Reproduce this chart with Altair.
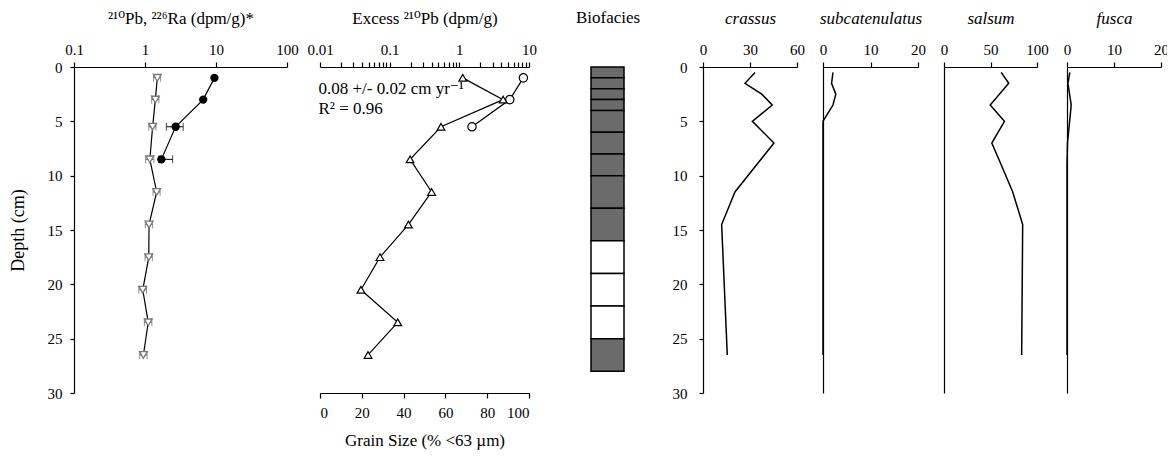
import altair as alt
import pandas as pd

# ---------------- data ----------------
# Panel 1: total 210Pb (filled circles) and 226Ra (open down-triangles)
pb_depth = [1, 3, 5.5, 8.5]
pb_value = [9.5, 6.6, 2.7, 1.7]
pb_err_depth = [5.5, 8.5]
pb_err_lo = [2.0, 1.57]
pb_err_hi = [3.45, 2.45]

ra_depth = [1, 3, 5.5, 8.5, 11.5, 14.5, 17.5, 20.5, 23.5, 26.5]
ra_value = [1.49, 1.40, 1.28, 1.17, 1.46, 1.14, 1.13, 0.93, 1.11, 0.95]
ra_lo = [1.32, 1.24, 1.13, 1.02, 1.30, 1.01, 1.00, 0.82, 0.98, 0.84]
ra_hi = [1.66, 1.57, 1.43, 1.33, 1.63, 1.28, 1.27, 1.05, 1.25, 1.07]

# Panel 2: excess 210Pb (open circles) and grain size (open triangles)
xs_depth = [1, 3, 5.5]
xs_value = [8.3, 5.3, 1.52]
grain_depth = [1, 3, 5.5, 8.5, 11.5, 14.5, 17.5, 20.5, 23.5, 26.5]
grain_pct = [68.3, 87.6, 57.9, 43.1, 53.4, 42.3, 28.7, 19.6, 37.2, 23.0]
note_text = ["0.08 +/- 0.02 cm yr\u207b\u00b9", "R\u00b2 = 0.96"]
note_depth = [2.0, 3.9]
note_x = [0.0095, 0.0095]

# Biofacies column
bio_top = [0, 1, 2, 3, 4, 6, 8, 10, 13, 16, 19, 22, 25]
bio_bottom = [1, 2, 3, 4, 6, 8, 10, 13, 16, 19, 22, 25, 28]
bio_class = ["grey"] * 9 + ["white"] * 3 + ["grey"]

# Foraminifera (%)
crassus_depth = [0.5, 1.5, 2.5, 3.5, 5, 7, 11.5, 14.5, 26.5]
crassus_pct = [33.2, 26.8, 37.5, 44.2, 31.5, 45.3, 20.4, 11.9, 15.5]
subcat_depth = [0.5, 1.5, 2.5, 3.5, 5, 7, 9, 11.5, 14.5, 17.5, 20.5, 23.5, 26.5]
subcat_pct = [2.1, 1.8, 2.7, 2.1, 0, 0, 0, 0, 0, 0, 0, 0, 0]
salsum_depth = [0.5, 1.5, 3.5, 5, 7, 9, 11.5, 14.5, 26.5]
salsum_pct = [61.5, 69.6, 49.7, 65.0, 51.4, 61.5, 73.9, 84.6, 83.5]
fusca_depth = [0.5, 1.5, 3.5, 7, 9, 11.5, 14.5, 17.5, 20.5, 23.5, 26.5]
fusca_pct = [0.6, 0.2, 0.9, 0.1, 0, 0, 0, 0, 0, 0, 0]

# ---------------- layout (pixel ranges inside plot area) ----------------
R1 = [0, 213]
R2 = [246, 455]
RB = [517, 550]
R3 = [629, 723]
R4 = [749, 844]
R5 = [870, 963]
R6 = [993, 1087]
W, H = 1087, 326
FONT = "Liberation Serif, DejaVu Serif, serif"
FS = 15
TFS = 17


def ysc():
    return alt.Scale(domain=[0, 30], reverse=True, nice=False, zero=False)


def lin(domain, rng):
    return alt.Scale(type="linear", domain=domain, range=rng, nice=False, zero=False)


def logs(domain, rng):
    return alt.Scale(type="log", domain=domain, range=rng, nice=False)


def top_axis(values, title, italic=False, fmt="~g", **kw):
    args = dict(orient="top", values=values, format=fmt, title=title,
                tickSize=5, labelPadding=5, titlePadding=15, labelFlush=False)
    if italic:
        args["titleFontStyle"] = "italic"
        args["titleLineHeight"] = 18
    args.update(kw)
    return alt.Axis(**args)


NOY = alt.Y("depth:Q", scale=ysc(), axis=None)

pb_df = pd.DataFrame({"depth": pb_depth, "value": pb_value})
pb_err_df = pd.DataFrame({"depth": pb_err_depth, "lo": pb_err_lo, "hi": pb_err_hi})
ra_df = pd.DataFrame({"depth": ra_depth, "value": ra_value, "lo": ra_lo, "hi": ra_hi})
xs_df = pd.DataFrame({"depth": xs_depth, "value": xs_value})
gr_df = pd.DataFrame({"depth": grain_depth, "value": grain_pct})
note_df = pd.DataFrame({"depth": note_depth, "value": note_x, "label": note_text})
bio_df = pd.DataFrame({"top": bio_top, "bottom": bio_bottom, "facies": bio_class,
                       "col": ["Biofacies"] * len(bio_top)})

# ---------------- panel 1 ----------------
p1_axis = top_axis([0.1, 1, 10, 100], "\u00b2\u00b9\u2070Pb, \u00b2\u00b2\u2076Ra (dpm/g)*")
ra_line = alt.Chart(ra_df).mark_line(color="black", strokeWidth=1.2).encode(
    x=alt.X("value:Q", scale=logs([0.1, 100], R1), axis=p1_axis),
    y=alt.Y("depth:Q", scale=ysc(),
            axis=alt.Axis(orient="left", values=[0, 5, 10, 15, 20, 25, 30], title="Depth (cm)",
                          tickSize=4, labelPadding=8, titlePadding=20, titleFontSize=18)),
    order="depth:Q",
)
ra_rule = alt.Chart(ra_df).mark_rule(color="#666", strokeWidth=1).encode(
    x=alt.X("lo:Q", scale=logs([0.1, 100], R1), axis=None), x2="hi:Q", y=NOY)
ra_caps = alt.Chart(ra_df).transform_fold(["lo", "hi"], as_=["end", "xv"]).mark_tick(
    orient="vertical", size=8, thickness=1, color="#666").encode(
    x=alt.X("xv:Q", scale=logs([0.1, 100], R1), axis=None), y=NOY)
ra_pts = alt.Chart(ra_df).mark_point(shape="triangle-down", filled=True, fill="white",
                                     stroke="#777", strokeWidth=1.3, size=60, opacity=1).encode(
    x=alt.X("value:Q", scale=logs([0.1, 100], R1), axis=None), y=NOY)

pb_line = alt.Chart(pb_df).mark_line(color="black", strokeWidth=1.2).encode(
    x=alt.X("value:Q", scale=logs([0.1, 100], R1), axis=None), y=NOY, order="depth:Q")
pb_rule = alt.Chart(pb_err_df).mark_rule(color="black", strokeWidth=1).encode(
    x=alt.X("lo:Q", scale=logs([0.1, 100], R1), axis=None), x2="hi:Q", y=NOY)
pb_caps = alt.Chart(pb_err_df).transform_fold(["lo", "hi"], as_=["end", "xv"]).mark_tick(
    orient="vertical", size=8, thickness=1, color="black").encode(
    x=alt.X("xv:Q", scale=logs([0.1, 100], R1), axis=None), y=NOY)
pb_pts = alt.Chart(pb_df).mark_point(shape="circle", filled=True, color="black", size=70, opacity=1).encode(
    x=alt.X("value:Q", scale=logs([0.1, 100], R1), axis=None), y=NOY)

# ---------------- panel 2 ----------------
minor = [0.01, 0.02, 0.03, 0.04, 0.05, 0.06, 0.07, 0.08, 0.09,
         0.1, 0.2, 0.3, 0.4, 0.5, 0.6, 0.7, 0.8, 0.9,
         1, 2, 3, 4, 5, 6, 7, 8, 9, 10]
p2_axis = top_axis(minor, "Excess \u00b2\u00b9\u2070Pb (dpm/g)",
                   labelExpr="indexof([0.01, 0.1, 1, 10], datum.value) >= 0 ? datum.label : ''")
xs_line = alt.Chart(xs_df).mark_line(color="black", strokeWidth=1.2).encode(
    x=alt.X("value:Q", scale=logs([0.01, 10], R2), axis=p2_axis), y=NOY, order="depth:Q")
xs_pts = alt.Chart(xs_df).mark_point(shape="circle", filled=True, fill="white", stroke="black",
                                     strokeWidth=1.2, size=70, opacity=1).encode(
    x=alt.X("value:Q", scale=logs([0.01, 10], R2), axis=None), y=NOY)
note = alt.Chart(note_df).mark_text(align="left", baseline="middle", font=FONT, fontSize=17,
                                    color="black").encode(
    x=alt.X("value:Q", scale=logs([0.01, 10], R2), axis=None), y=NOY, text="label:N")

gr_axis = alt.Axis(orient="bottom", values=[0, 20, 40, 60, 80, 100], format="d",
                   title="Grain Size (% <63 \u00b5m)",
                   tickSize=5, labelPadding=7, titlePadding=12)
gr_line = alt.Chart(gr_df).mark_line(color="black", strokeWidth=1.2).encode(
    x=alt.X("value:Q", scale=lin([0, 100], R2), axis=gr_axis), y=NOY, order="depth:Q")
gr_pts = alt.Chart(gr_df).mark_point(shape="triangle-up", filled=True, fill="white", stroke="black",
                                     strokeWidth=1.2, size=60, opacity=1).encode(
    x=alt.X("value:Q", scale=lin([0, 100], R2), axis=None), y=NOY)

# ---------------- biofacies ----------------
bio = alt.Chart(bio_df).mark_rect(stroke="black", strokeWidth=1.5).encode(
    x=alt.X("col:N", scale=alt.Scale(range=RB, paddingInner=0, paddingOuter=0),
            axis=alt.Axis(orient="top", title="Biofacies", labels=False, ticks=False, domain=False,
                          titlePadding=41)),
    y=alt.Y("top:Q", scale=ysc(), axis=None), y2="bottom:Q",
    fill=alt.Fill("facies:N", scale=alt.Scale(domain=["grey", "white"], range=["#6b6b6b", "white"]),
                  legend=None),
)


# ---------------- foraminifera panels ----------------
def fora(depth, pct, domain, values, rng, title, yaxis):
    df = pd.DataFrame({"depth": depth, "value": pct})
    return alt.Chart(df).mark_line(color="black", strokeWidth=1.5).encode(
        x=alt.X("value:Q", scale=lin(domain, rng), axis=top_axis(values, title, italic=True, fmt="d")),
        y=alt.Y("depth:Q", scale=ysc(), axis=yaxis),
        order="depth:Q",
    )


def plain_y(off):
    return alt.Axis(orient="left", offset=off, labels=False, ticks=False, title=None)


f3 = fora(crassus_depth, crassus_pct, [0, 60], [0, 30, 60], R3, ["Ammobaculites", "crassus"],
          alt.Axis(orient="left", offset=-R3[0], values=[0, 5, 10, 15, 20, 25, 30], title=None,
                   tickSize=4, labelPadding=12))
f4 = fora(subcat_depth, subcat_pct, [0, 20], [0, 10, 20], R4, ["Ammobaculites", "subcatenulatus"],
          plain_y(-R4[0]))
f5 = fora(salsum_depth, salsum_pct, [0, 100], [0, 50, 100], R5, ["Ammotium", "salsum"],
          plain_y(-R5[0]))
f6 = fora(fusca_depth, fusca_pct, [0, 20], [0, 10, 20], R6, ["Miliammina", "fusca"],
          plain_y(-R6[0]))

chart = alt.layer(
    ra_line, ra_rule, ra_caps, ra_pts, pb_line, pb_rule, pb_caps, pb_pts,
    xs_line, xs_pts, note, gr_line, gr_pts, bio, f3, f4, f5, f6,
).resolve_scale(x="independent", y="independent").properties(
    width=W, height=H,
    autosize=alt.AutoSizeParams(type="none"),
    padding={"left": 66, "top": 59, "right": 6, "bottom": 64},
).configure_axis(
    labelFont=FONT, titleFont=FONT, labelFontSize=FS, titleFontSize=TFS, titleFontWeight="normal",
    labelColor="black", titleColor="black", domainColor="black", tickColor="black",
    domainWidth=1.2, tickWidth=1.2, grid=False,
).configure_view(stroke=None)

chart.save("out.html", embed_options={"renderer": "svg", "actions": False})
